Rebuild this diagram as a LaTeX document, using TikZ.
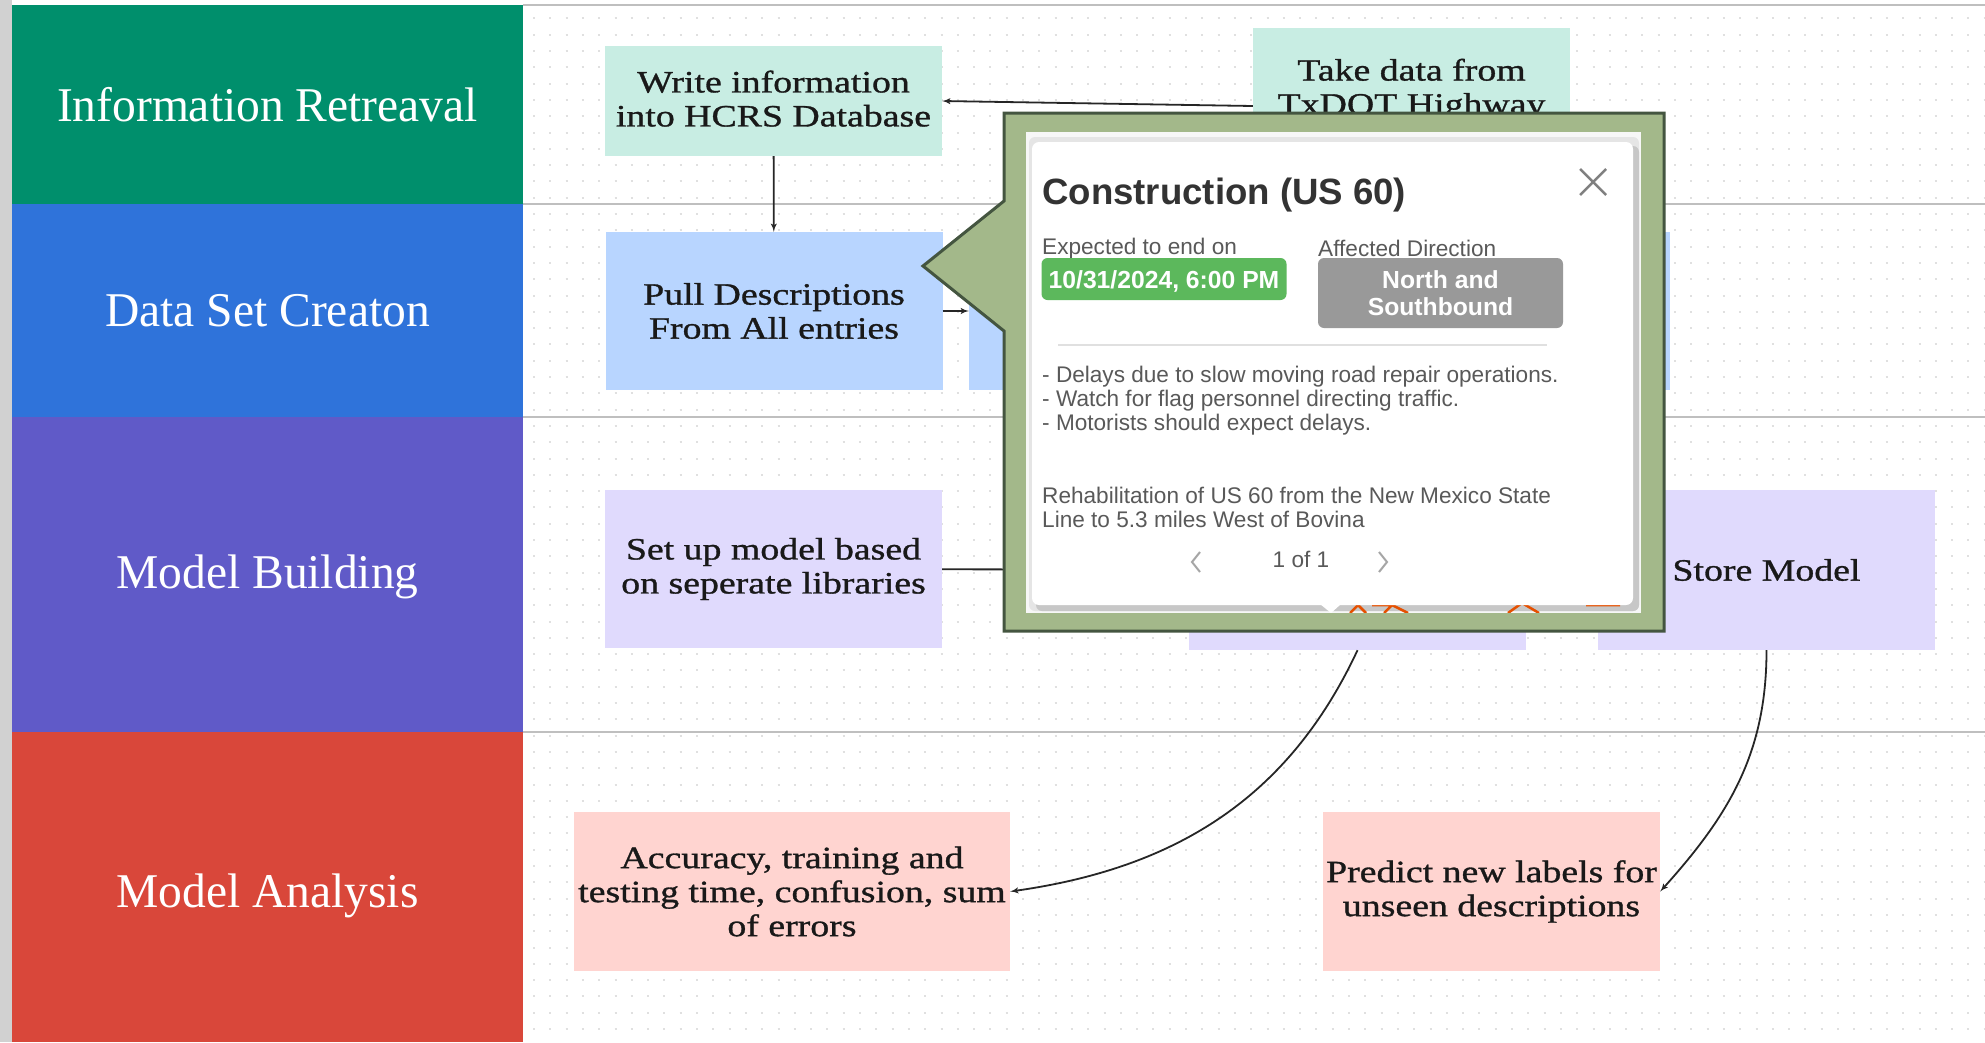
\documentclass[tikz,border=0pt]{standalone}
\usepackage{fontspec}
\setmainfont{Liberation Serif}
\newfontfamily\boxfont[FakeStretch=1.22,FakeBold=1]{Liberation Serif}
\newfontfamily\bandfont[FakeStretch=0.98]{Liberation Serif}
\newfontfamily\popfont{Liberation Sans}
\usetikzlibrary{positioning,arrows}

\definecolor{bandgreen}{HTML}{008F6C}
\definecolor{bandblue}{HTML}{2F73DA}
\definecolor{bandpurple}{HTML}{605AC8}
\definecolor{bandred}{HTML}{D9473A}
\definecolor{boxteal}{HTML}{C8EDE3}
\definecolor{boxblue}{HTML}{B8D5FF}
\definecolor{boxlav}{HTML}{E0DAFD}
\definecolor{boxpink}{HTML}{FFD4D0}
\definecolor{popolive}{HTML}{A3B88A}
\definecolor{popdark}{HTML}{445540}
\definecolor{badgegreen}{HTML}{5CB85C}
\definecolor{badgegrey}{HTML}{999999}

\begin{document}
\begin{tikzpicture}[x=1pt,y=-1pt]
    \tikzstyle{band}=[rectangle,inner sep=0pt,text=white,minimum width=511pt,font=\bandfont\fontsize{48.5}{54}\selectfont]
    \tikzstyle{box}=[rectangle,inner sep=0pt,align=center,minimum width=337pt,minimum height=158pt,text=black!90,font=\boxfont\fontsize{31}{34}\selectfont]
    \tikzstyle{poptext}=[inner sep=0pt,anchor=west,align=left,text=black!65,font=\popfont\fontsize{22.6}{24}\selectfont]
    \tikzstyle{badge}=[rectangle,rounded corners=6pt,inner sep=0pt,align=center,minimum width=245pt,text=white,font=\popfont\bfseries\fontsize{24.7}{27.5}\selectfont]
    \tikzstyle{edge}=[->,>=latex',line width=1.8pt,draw=black!85]

    \useasboundingbox (0,0) rectangle (1985,1042);
    \fill[white] (0,0) rectangle (1985,1042);
    \fill[black!18] (0,0) rectangle (12,1042);

    % dotted grid and lane lines
    \foreach \row in {0,...,62}
        \draw[black!12,line width=2pt,dash pattern=on 2pt off 14.3pt] (533,{18.4+16.3*\row}) -- (1985,{18.4+16.3*\row});
    \foreach \laney in {5,204,417,732}
        \draw[black!25,line width=2pt] (523,\laney) -- (1985,\laney);

    \node[band,fill=bandgreen,minimum height=199pt] (retrieval) at (267.5,104.5) {Information Retreaval};
    \node[band,fill=bandblue,minimum height=213pt] (dataset) at (267.5,310.5) {Data Set Creaton};
    \node[band,fill=bandpurple,minimum height=315pt] (building) at (267.5,574.5) {\rule{0pt}{39pt}Model Building};
    \node[band,fill=bandred,minimum height=310pt] (analysis) at (267.5,887) {\rule{0pt}{51pt}Model Analysis};

    \node[box,fill=boxteal,minimum height=110pt] (write) at (773.5,101) {Write information\\into HCRS Database\rule[-5pt]{0pt}{1pt}};
    \node[box,fill=boxteal,minimum width=317pt,minimum height=156pt] (take) at (1411.5,106) {};
    \node[inner sep=0pt,align=center,text=black!90,font=\boxfont\fontsize{31}{34}\selectfont] (taketext) at (1411.5,90) {Take data from\\TxDOT Highway};

    \node[box,fill=boxblue] (pull) at (774,311) {Pull Descriptions\\From All entries};
    \node[box,fill=boxblue,minimum width=701pt] (hiddenblue) at (1319.5,311) {};

    \node[box,fill=boxlav] (setup) at (773.5,569) {Set up model based\\on seperate libraries};
    \node[box,fill=boxlav,minimum height=160pt] (hiddenlav) at (1357.5,570) {};
    \node[box,fill=boxlav,minimum height=160pt] (store) at (1766.5,570) {Store Model};

    \node[box,fill=boxpink,minimum width=436pt,minimum height=159pt] (accuracy) at (792,891.5) {Accuracy, training and\\testing time, confusion, sum\\of errors};
    \node[box,fill=boxpink,minimum height=159pt] (predict) at (1491.5,891.5) {Predict new labels for\\unseen descriptions};

    \draw[edge] (take.west) -- (write.east);
    \draw[edge] (write) -- (pull);
    \draw[edge] (pull) -- (hiddenblue.west);
    \draw[edge] (setup) -- (hiddenlav);
    \draw[edge] (hiddenlav.south) to[out=-115,in=8] (accuracy.east);
    \draw[edge] (store.south) to[out=-90,in=48] (predict.east);

    % popup frame
    \draw[fill=popolive,draw=popdark,line width=3pt] (1004,113) -- (1664,113) -- (1664,631) -- (1004,631) -- (1004,331) -- (923,266) -- (1004,201) -- cycle;
    \fill[black!3] (1026,132) rectangle (1641,613);
    \fill[black!10,rounded corners=6pt] (1029,137) rectangle (1639,611);
    \fill[black!22,rounded corners=6pt] (1036,146) rectangle (1639,611);
    \draw[orange!70!red!90!black,line width=2.5pt] (1350,613) -- (1358,605) -- (1366,613) (1372,605) -- (1390,605) (1384,613) -- (1392,605) -- (1408,613) (1508,613) -- (1522,603) -- (1539,613) (1586,605) -- (1620,605);
    \fill[white,rounded corners=7pt] (1032,142) rectangle (1633,605);
    \fill[white] (1320,604) -- (1341,604) -- (1331,613) -- cycle;
    \fill[popolive] (1026,613) rectangle (1641,629);

    \node[inner sep=0pt,anchor=west,text=black!80,font=\popfont\bfseries\fontsize{36.6}{40}\selectfont] (title) at (1042,195) {Construction (US 60)};
    \draw[black!50,line width=2.5pt] (1580,169) -- (1606,195) (1606,169) -- (1580,195);

    \node[poptext] (ending) at (1042,249) {Expected to end on};
    \node[poptext] (direction) at (1318,248) {Affected Direction};
    \node[badge,fill=badgegreen,minimum height=42pt] (enddate) at (1164,279) {\rule{0pt}{23pt}10/31/2024, 6:00 PM};
    \node[badge,fill=badgegrey,minimum height=70pt] (dirbadge) at (1440.5,293) {North and\\Southbound};
    \draw[black!12,line width=2pt] (1058,345) -- (1547,345);

    \node[poptext] (delays) at (1042,377) {- Delays due to slow moving road repair operations.};
    \node[poptext] (watch) at (1042,401) {- Watch for flag personnel directing traffic.};
    \node[poptext] (motorists) at (1042,425) {- Motorists should expect delays.};
    \node[poptext] (rehab) at (1042,507) {Rehabilitation of US 60 from the New Mexico State\\Line to 5.3 miles West of Bovina};
    \node[inner sep=0pt,text=black!65,font=\popfont\fontsize{22.6}{24}\selectfont] (pager) at (1301,559) {1 of 1};
    \draw[black!35,line width=2pt] (1200,552) -- (1192,562) -- (1200,572);
    \draw[black!35,line width=2pt] (1379,552) -- (1387,562) -- (1379,572);
\end{tikzpicture}
\end{document}
